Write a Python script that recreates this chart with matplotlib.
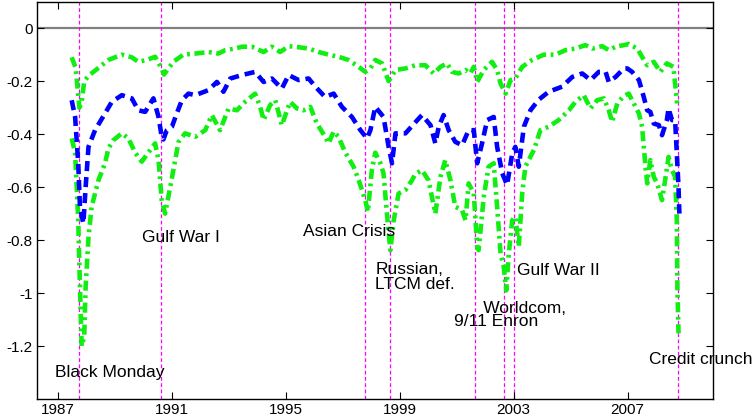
import matplotlib
matplotlib.use('Agg')
import matplotlib.pyplot as plt

# --- DATA (decimal years) ---
upper_dates = [1987.48, 1987.62, 1987.75, 1987.83, 1987.92, 1988.07, 1988.42, 1988.77,
               1989.24, 1989.59, 1989.82, 1990.12, 1990.41, 1990.64, 1990.72, 1991.05,
               1991.40, 1991.82, 1992.28, 1992.63, 1992.87, 1993.22, 1993.46, 1993.81,
               1994.22, 1994.51, 1994.80, 1995.10, 1995.45, 1995.80, 1996.15, 1996.50,
               1996.85, 1997.20, 1997.56, 1997.79, 1997.97, 1998.14, 1998.38, 1998.61,
               1998.85, 1999.20, 1999.55, 1999.90, 2000.19, 2000.43, 2000.66, 2000.84,
               2001.07, 2001.31, 2001.48, 2001.60, 2001.72, 2001.95, 2002.24, 2002.42,
               2002.54, 2002.72, 2002.89, 2003.06, 2003.30, 2003.65, 2004.06, 2004.47,
               2004.82, 2005.17, 2005.52, 2005.76, 2006.11, 2006.34, 2006.58, 2006.87,
               2007.05, 2007.34, 2007.51, 2007.69, 2007.92, 2008.15, 2008.38, 2008.61,
               2008.74]
upper_vals = [-0.11, -0.15, -0.30, -0.28, -0.20, -0.18, -0.15, -0.12,
              -0.10, -0.11, -0.127, -0.12, -0.108, -0.152, -0.175, -0.127,
              -0.10, -0.096, -0.09, -0.096, -0.083, -0.077, -0.07, -0.07,
              -0.09, -0.07, -0.09, -0.068, -0.072, -0.077, -0.09, -0.10,
              -0.108, -0.12, -0.146, -0.165, -0.152, -0.12, -0.133, -0.20,
              -0.158, -0.152, -0.14, -0.14, -0.171, -0.146, -0.133, -0.165,
              -0.171, -0.158, -0.171, -0.146, -0.203, -0.158, -0.127, -0.158,
              -0.209, -0.247, -0.196, -0.19, -0.146, -0.12, -0.10, -0.10,
              -0.083, -0.077, -0.064, -0.077, -0.068, -0.083, -0.07, -0.064,
              -0.06, -0.077, -0.108, -0.14, -0.127, -0.165, -0.133, -0.146,
              -0.284]

mid_dates = [1987.48, 1987.60, 1987.71, 1987.77, 1987.89, 1987.97, 1988.07, 1988.30,
             1988.65, 1988.89, 1989.24, 1989.59, 1989.82, 1990.06, 1990.35, 1990.53,
             1990.64, 1990.70, 1990.82, 1991.00, 1991.17, 1991.35, 1991.58, 1991.82,
             1992.28, 1992.58, 1992.81, 1993.05, 1993.46, 1993.92, 1994.22, 1994.51,
             1994.86, 1995.10, 1995.45, 1995.80, 1996.03, 1996.38, 1996.68, 1996.97,
             1997.32, 1997.62, 1997.85, 1997.97, 1998.14, 1998.43, 1998.61, 1998.73,
             1998.85, 1999.20, 1999.55, 1999.78, 2000.08, 2000.25, 2000.37, 2000.54,
             2000.72, 2000.95, 2001.19, 2001.42, 2001.60, 2001.72, 2001.89, 2002.07,
             2002.30, 2002.42, 2002.60, 2002.77, 2002.95, 2003.06, 2003.18, 2003.36,
             2003.59, 2003.88, 2004.23, 2004.70, 2005.06, 2005.41, 2005.70, 2005.99,
             2006.23, 2006.34, 2006.58, 2006.87, 2006.99, 2007.16, 2007.40, 2007.57,
             2007.69, 2007.80, 2007.92, 2008.10, 2008.21, 2008.38, 2008.44, 2008.56,
             2008.67, 2008.73, 2008.79, 2008.82]
mid_vals = [-0.272, -0.335, -0.51, -0.674, -0.737, -0.60, -0.448, -0.385,
            -0.322, -0.278, -0.253, -0.265, -0.31, -0.316, -0.265, -0.335,
            -0.41, -0.42, -0.385, -0.372, -0.322, -0.272, -0.247, -0.253,
            -0.234, -0.203, -0.24, -0.19, -0.177, -0.165, -0.203, -0.19,
            -0.228, -0.177, -0.196, -0.19, -0.22, -0.26, -0.247, -0.297,
            -0.335, -0.385, -0.416, -0.385, -0.297, -0.335, -0.448, -0.51,
            -0.397, -0.397, -0.355, -0.328, -0.366, -0.435, -0.372, -0.328,
            -0.385, -0.429, -0.442, -0.385, -0.385, -0.51, -0.435, -0.347,
            -0.335, -0.448, -0.548, -0.592, -0.473, -0.448, -0.523, -0.372,
            -0.31, -0.27, -0.24, -0.221, -0.184, -0.171, -0.196, -0.165,
            -0.165, -0.203, -0.184, -0.152, -0.152, -0.165, -0.196, -0.26,
            -0.31, -0.316, -0.36, -0.366, -0.404, -0.347, -0.303, -0.347,
            -0.347, -0.473, -0.60, -0.70]

lower_dates = [1987.48, 1987.60, 1987.71, 1987.77, 1987.83, 1987.92, 1987.97, 1988.07,
               1988.18, 1988.42, 1988.65, 1988.77, 1988.94, 1989.24, 1989.47, 1989.71,
               1989.94, 1990.17, 1990.41, 1990.53, 1990.64, 1990.76, 1990.94, 1991.05,
               1991.23, 1991.46, 1991.82, 1992.17, 1992.40, 1992.69, 1992.99, 1993.28,
               1993.57, 1993.92, 1994.10, 1994.22, 1994.45, 1994.63, 1994.86, 1995.15,
               1995.39, 1995.62, 1995.86, 1996.09, 1996.38, 1996.50, 1996.68, 1996.85,
               1997.09, 1997.38, 1997.56, 1997.79, 1997.88, 1998.02, 1998.14, 1998.32,
               1998.43, 1998.55, 1998.67, 1998.79, 1998.96, 1999.20, 1999.43, 1999.55,
               1999.78, 2000.01, 2000.25, 2000.43, 2000.60, 2000.78, 2000.95, 2001.19,
               2001.31, 2001.42, 2001.60, 2001.72, 2001.77, 2001.95, 2002.12, 2002.30,
               2002.42, 2002.54, 2002.65, 2002.74, 2002.83, 2002.95, 2003.06, 2003.18,
               2003.30, 2003.41, 2003.71, 2003.94, 2004.23, 2004.58, 2004.94, 2005.17,
               2005.46, 2005.70, 2005.93, 2006.17, 2006.34, 2006.46, 2006.64, 2006.87,
               2007.04, 2007.22, 2007.40, 2007.51, 2007.57, 2007.63, 2007.69, 2007.80,
               2007.92, 2008.04, 2008.21, 2008.32, 2008.44, 2008.56, 2008.67, 2008.73,
               2008.75, 2008.79]
lower_vals = [-0.416, -0.47, -0.725, -0.976, -1.20, -1.165, -0.976, -0.79,
              -0.674, -0.574, -0.51, -0.454, -0.423, -0.397, -0.416, -0.47,
              -0.504, -0.47, -0.435, -0.498, -0.649, -0.70, -0.60, -0.536,
              -0.43, -0.397, -0.41, -0.385, -0.328, -0.385, -0.303, -0.31,
              -0.278, -0.247, -0.297, -0.347, -0.29, -0.272, -0.366, -0.278,
              -0.303, -0.31, -0.297, -0.36, -0.41, -0.435, -0.39, -0.41,
              -0.47, -0.523, -0.574, -0.649, -0.693, -0.536, -0.47, -0.51,
              -0.548, -0.70, -0.838, -0.725, -0.624, -0.611, -0.574, -0.55,
              -0.536, -0.574, -0.70, -0.561, -0.498, -0.574, -0.674, -0.687,
              -0.725, -0.586, -0.624, -0.825, -0.838, -0.637, -0.523, -0.51,
              -0.674, -0.85, -0.90, -0.99, -0.85, -0.725, -0.712, -0.825,
              -0.624, -0.523, -0.46, -0.385, -0.372, -0.347, -0.31, -0.278,
              -0.253, -0.303, -0.272, -0.265, -0.31, -0.354, -0.284, -0.255,
              -0.247, -0.284, -0.322, -0.372, -0.448, -0.523, -0.586, -0.498,
              -0.561, -0.586, -0.649, -0.574, -0.486, -0.536, -0.561, -0.725,
              -0.976, -1.152]

# crisis events and their labels
event_dates = [1987.75, 1990.63, 1997.78, 1998.65, 2001.66, 2002.65, 2003.0, 2008.77]
label_texts = ['Black Monday', 'Gulf War I', 'Asian Crisis', 'Russian,\nLTCM def.',
               '      Worldcom,\n9/11 Enron', 'Gulf War II', 'Credit crunch']
label_x = [1986.89, 1989.95, 1995.61, 1998.14, 2000.89, 2003.13, 2007.77]
label_y = [-1.298, -0.792, -0.766, -0.94, -1.083, -0.913, -1.249]
label_spacing = [1.0, 1.0, 1.0, 1.0, 0.78, 1.0, 1.0]

x_ticks = [1987, 1991, 1995, 1999, 2003, 2007]
y_ticks = [0, -0.2, -0.4, -0.6, -0.8, -1, -1.2]
y_tick_labels = ['0', '-0.2', '-0.4', '-0.6', '-0.8', '-1', '-1.2']


def main():
    plt.rcParams['font.family'] = ['Liberation Sans', 'DejaVu Sans']

    fig = plt.figure(figsize=(7.54, 4.17), dpi=100)
    ax = fig.add_axes([0.049, 0.043, 0.8966, 0.953])

    ax.axhline(0, color='#808080', lw=1.6, zorder=1)
    for d in event_dates:
        ax.axvline(d, color='#ff00ff', lw=0.9, linestyle=(0, (3, 2)), zorder=1)

    # two green bands and the blue middle line
    green = '#11ee11'
    dashdot = (0, (2.2, 1.0, 0.6, 1.0))
    ax.plot(upper_dates, upper_vals, color=green, lw=3.3, linestyle=dashdot, zorder=3)
    ax.plot(lower_dates, lower_vals, color=green, lw=3.3, linestyle=dashdot, zorder=3)
    ax.plot(mid_dates, mid_vals, color='#0000ff', lw=3.3,
            linestyle=(0, (2.2, 1.3)), zorder=4)

    for t, x, y, ls in zip(label_texts, label_x, label_y, label_spacing):
        ax.text(x, y, t, fontsize=12.5, ha='left', va='center',
                linespacing=ls, clip_on=False, zorder=5)

    ax.set_xlim(1986.26, 2010.0)
    ax.set_ylim(-1.4, 0.1)
    ax.set_xticks(x_ticks)
    ax.set_xticklabels([str(v) for v in x_ticks])
    ax.set_yticks(y_ticks)
    ax.set_yticklabels(y_tick_labels)
    ax.tick_params(direction='in', top=True, right=True, length=5,
                   width=0.8, labelsize=11, pad=3)
    for s in ax.spines.values():
        s.set_linewidth(1.0)

    fig.savefig('out.png', dpi=100)


if __name__ == "__main__":
    main()
